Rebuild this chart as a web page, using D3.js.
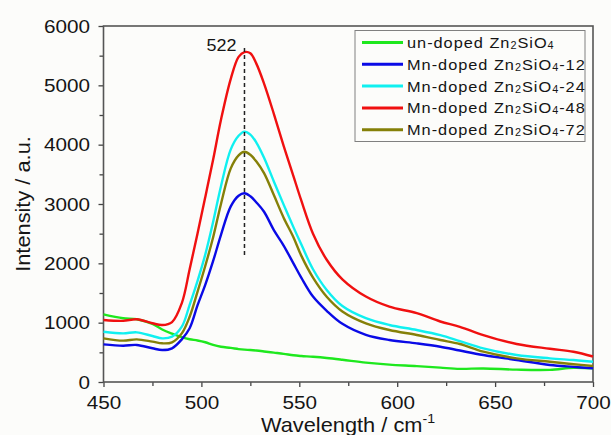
<!DOCTYPE html>
<html>
<head>
<meta charset="utf-8">
<script src="https://cdn.jsdelivr.net/npm/d3@7/dist/d3.min.js"></script>
<style>
body { margin: 0; background: #fcfcfa; }
svg text { font-family: "Liberation Sans", Arimo, Arial, sans-serif; fill: #151515; }
</style>
</head>
<body>
<div class="svgContainer"></div>
<script>
// Data
var WAVE     = [450, 460, 467, 475, 480, 485, 490, 494, 498, 502, 506, 510, 515, 519, 522, 525, 528, 532, 537, 542, 547, 551, 557, 564, 572, 584, 596, 610, 622, 632, 644, 661, 678, 690, 700];
var UNDOPED  = [1140, 1075, 1057, 980, 885, 815, 755, 720, 700, 670, 625, 595, 575, 555, 545, 539, 530, 515, 495, 475, 450, 438, 425, 405, 375, 326, 292, 268, 242, 222, 228, 208, 205, 240, 231];
var MN12     = [635, 612, 624, 568, 539, 568, 719, 905, 1290, 1640, 2040, 2480, 2960, 3140, 3180, 3130, 3030, 2870, 2560, 2300, 2000, 1760, 1440, 1200, 980, 795, 708, 652, 595, 530, 455, 371, 287, 255, 231];
var MN24     = [848, 820, 837, 775, 736, 764, 932, 1300, 1700, 2150, 2700, 3300, 3920, 4150, 4220, 4170, 4040, 3780, 3380, 2990, 2610, 2320, 1900, 1551, 1280, 1075, 961, 876, 790, 690, 568, 455, 399, 370, 342];
var MN48     = [1045, 1030, 1057, 990, 960, 1010, 1330, 1900, 2500, 3120, 3750, 4420, 5110, 5480, 5560, 5540, 5370, 5030, 4520, 3980, 3470, 3060, 2500, 2060, 1730, 1440, 1270, 1160, 1020, 930, 790, 640, 560, 510, 430];
var MN72     = [736, 697, 719, 680, 652, 669, 820, 1100, 1520, 1960, 2440, 3000, 3600, 3820, 3880, 3830, 3720, 3520, 3150, 2770, 2440, 2130, 1760, 1438, 1190, 989, 876, 792, 708, 640, 511, 399, 342, 300, 270];

var SERIES   = [UNDOPED, MN12, MN24, MN48, MN72];
var COLORS   = ["#1ee81e", "#0a0ae6", "#10f0f0", "#f01010", "#858008"];
var LEGEND_PREFIX = ["un-doped ", "Mn-doped ", "Mn-doped ", "Mn-doped ", "Mn-doped "];
var LEGEND_SUFFIX = ["", "-12", "-24", "-48", "-72"];

var X_TICKS = [450, 500, 550, 600, 650, 700];
var X_MINOR = [475, 525, 575, 625, 675];
var Y_TICKS = [0, 1000, 2000, 3000, 4000, 5000, 6000];
var Y_MINOR = [500, 1500, 2500, 3500, 4500, 5500];
var PEAK = 522;
var PEAK_RANGE = [2140, 5660];

// the original picture is a bit stretched sideways
var STRETCH = "scale(1.09,1)";

var margin = {left: 103.5, right: 18, top: 26, bottom: 53},
    width = 611 - margin.left - margin.right,
    height = 435 - margin.top - margin.bottom;

var root = d3.select(".svgContainer").append("svg")
    .attr("width", 611)
    .attr("height", 435);

root.append("rect")
    .attr("width", 611).attr("height", 435)
    .attr("fill", "#fcfcfa");

var svg = root.append("g")
    .attr("transform", "translate(" + margin.left + "," + margin.top + ")");

var scaleX = d3.scaleLinear().domain([450, 700]).range([0, width]);
var scaleY = d3.scaleLinear().domain([0, 6000]).range([height, 0]);

// minor ticks first, no labels
svg.append("g")
    .attr("transform", "translate(0," + height + ")")
    .call(d3.axisBottom(scaleX).tickValues(X_MINOR).tickSize(4).tickFormat(""))
    .call(function(g) { g.select(".domain").remove(); });
svg.append("g")
    .call(d3.axisLeft(scaleY).tickValues(Y_MINOR).tickSize(4).tickFormat(""))
    .call(function(g) { g.select(".domain").remove(); });

var xAxis = svg.append("g")
    .attr("transform", "translate(0," + height + ")")
    .call(d3.axisBottom(scaleX).tickValues(X_TICKS).tickSize(5).tickPadding(9).tickFormat(d3.format("d")));
var yAxis = svg.append("g")
    .call(d3.axisLeft(scaleY).tickValues(Y_TICKS).tickSize(5).tickPadding(7.4).tickFormat(d3.format("d")));

[xAxis, yAxis].forEach(function(ax) {
    ax.attr("font-family", null);
    ax.select(".domain").remove();
    ax.selectAll("text")
        .attr("font-size", 19)
        .attr("fill", "#151515")
        .attr("transform", STRETCH);
});
svg.selectAll(".tick line").attr("stroke", "#444").attr("stroke-width", 1.3);

// frame
svg.append("rect")
    .attr("width", width).attr("height", height)
    .attr("fill", "none")
    .attr("stroke", "#555")
    .attr("stroke-width", 1.6);

// curves
var line = d3.line()
    .x(function(d, i) { return scaleX(WAVE[i]); })
    .y(function(d) { return scaleY(d); })
    .curve(d3.curveCatmullRom.alpha(0.5));

svg.selectAll("path.curve")
    .data(SERIES)
    .enter().append("path")
    .attr("class", "curve")
    .attr("d", line)
    .attr("fill", "none")
    .attr("stroke", function(d, i) { return COLORS[i]; })
    .attr("stroke-width", 2.4)
    .attr("stroke-linejoin", "round");

// peak marker
svg.append("line")
    .attr("x1", scaleX(PEAK)).attr("x2", scaleX(PEAK))
    .attr("y1", scaleY(PEAK_RANGE[0])).attr("y2", scaleY(PEAK_RANGE[1]))
    .attr("stroke", "#222")
    .attr("stroke-width", 1.5)
    .attr("stroke-dasharray", "4,3");
svg.append("text")
    .attr("transform", "translate(" + (scaleX(PEAK) - 8) + "," + (scaleY(PEAK_RANGE[1]) + 5) + ") " + STRETCH)
    .attr("text-anchor", "end")
    .attr("font-size", 16.5)
    .text(PEAK);

// axis titles
var xt = root.append("text")
    .attr("transform", "translate(" + 348 + ",431.5) " + STRETCH)
    .attr("text-anchor", "middle")
    .attr("font-size", 20);
xt.append("tspan").text("Wavelength / cm");
xt.append("tspan").attr("font-size", 13).attr("dy", -9).text("-1");

root.append("text")
    .attr("transform", "translate(30," + (margin.top + height / 2) + ") rotate(-90) scale(1.09,1)")
    .attr("text-anchor", "middle")
    .attr("font-size", 20)
    .text("Intensity / a.u.");

// legend
var legend = root.append("g").attr("transform", "translate(355,30.5)");
legend.append("rect")
    .attr("width", 230).attr("height", 111)
    .attr("fill", "#fcfcfa")
    .attr("stroke", "#808080")
    .attr("stroke-width", 1);

var rows = legend.selectAll("g.row")
    .data(SERIES)
    .enter().append("g")
    .attr("class", "row")
    .attr("transform", function(d, i) { return "translate(0," + (12 + i * 21.8) + ")"; });

rows.append("line")
    .attr("x1", 7).attr("x2", 48)
    .attr("stroke", function(d, i) { return COLORS[i]; })
    .attr("stroke-width", 3);

var lt = rows.append("text")
    .attr("transform", "translate(52,5.5) " + STRETCH)
    .attr("font-size", 15)
    .attr("letter-spacing", 0.9);
lt.append("tspan").text(function(d, i) { return LEGEND_PREFIX[i] + "Zn"; });
lt.append("tspan").attr("font-size", 10).attr("dy", 1).text("2");
lt.append("tspan").attr("dy", -1).text("SiO");
lt.append("tspan").attr("font-size", 10).attr("dy", 1).text("4");
lt.append("tspan").attr("dy", -1).text(function(d, i) { return LEGEND_SUFFIX[i]; });
</script>
</body>
</html>
